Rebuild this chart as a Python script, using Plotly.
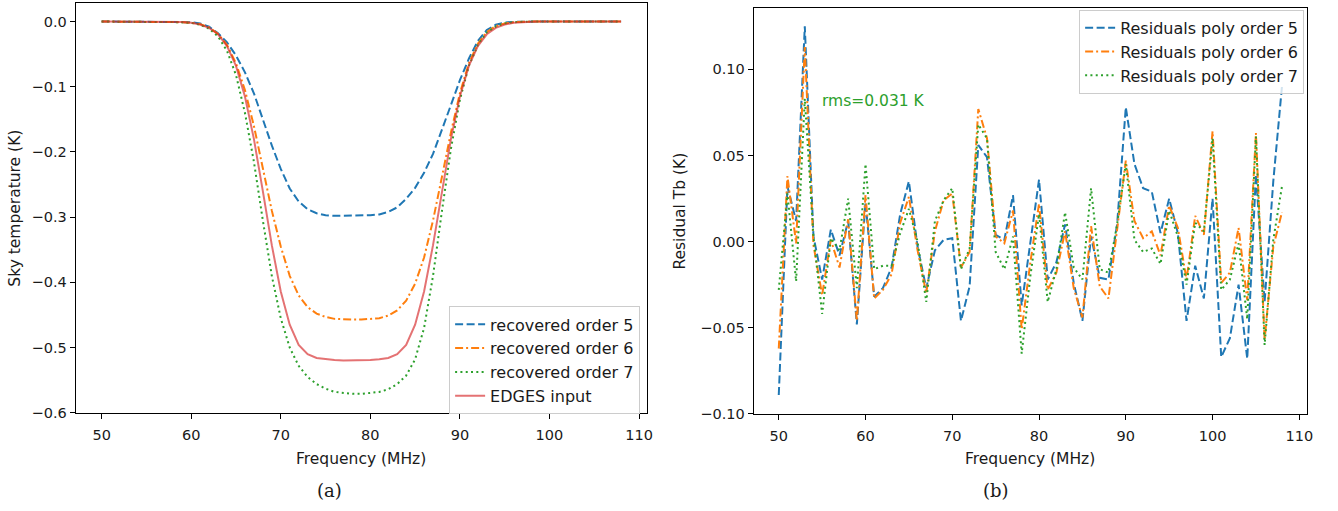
import plotly.graph_objects as go

# ---------------- data ----------------
freq = list(range(50, 109))

# panel (a): sky temperature (K)
recovered_order5 = [
    0, 0, 0, 0, 0, 0, 0, 0, 0,
    -0.0005, -0.001, -0.003, -0.008, -0.018, -0.032, -0.052, -0.078, -0.110, -0.150,
    -0.190, -0.226, -0.256, -0.276, -0.288, -0.294, -0.297, -0.298, -0.298, -0.298,
    -0.298, -0.297, -0.296, -0.292, -0.285, -0.272, -0.255, -0.232, -0.203, -0.167,
    -0.128, -0.090, -0.057, -0.030, -0.013, -0.005, -0.0015, -0.0005, 0,
    0, 0, 0, 0, 0, 0, 0, 0, 0, 0, 0,
]
recovered_order6 = [
    0, 0, 0, 0, 0, 0, 0, 0, 0,
    -0.001, -0.002, -0.004, -0.009, -0.019, -0.036, -0.064, -0.105, -0.160, -0.225,
    -0.290, -0.345, -0.390, -0.420, -0.438, -0.448, -0.453, -0.456, -0.457, -0.457,
    -0.457, -0.456, -0.455, -0.451, -0.443, -0.428, -0.402, -0.362, -0.305, -0.238,
    -0.170, -0.110, -0.064, -0.034, -0.016, -0.007, -0.003, -0.001, 0,
    0, 0, 0, 0, 0, 0, 0, 0, 0, 0, 0,
]
recovered_order7 = [
    0, 0, 0, 0, 0, 0, 0, 0, 0,
    -0.001, -0.002, -0.005, -0.011, -0.023, -0.045, -0.082, -0.140, -0.215, -0.305,
    -0.390, -0.455, -0.500, -0.528, -0.545, -0.556, -0.563, -0.568, -0.570, -0.571,
    -0.571, -0.570, -0.568, -0.564, -0.556, -0.543, -0.518, -0.470, -0.390, -0.290,
    -0.195, -0.120, -0.068, -0.036, -0.017, -0.008, -0.003, -0.001, 0,
    0, 0, 0, 0, 0, 0, 0, 0, 0, 0, 0,
]
edges_input = [
    0, 0, 0, 0, 0, 0, 0, 0,
    -0.0003, -0.0008, -0.002, -0.0045, -0.0097, -0.0196, -0.0376, -0.068, -0.115, -0.180,
    -0.260, -0.343, -0.414, -0.465, -0.496, -0.510, -0.516, -0.518, -0.519, -0.520,
    -0.520, -0.520, -0.519, -0.518, -0.516, -0.510, -0.496, -0.465, -0.414, -0.343,
    -0.260, -0.180, -0.115, -0.068, -0.0376, -0.0196, -0.0097, -0.0045, -0.002, -0.0008,
    -0.0003, 0, 0, 0, 0, 0, 0, 0, 0, 0, 0,
]

# panel (b): residuals (K)
resid_order5 = [
    -0.089, 0.032, 0.012, 0.125, 0.003, -0.022, 0.007, -0.008, 0.012, -0.048,
    0.023, -0.032, -0.027, -0.015, 0.016, 0.035, -0.003, -0.027, -0.005, 0.001,
    0.002, -0.046, -0.026, 0.056, 0.049, 0.004, 0.001, 0.027, -0.037, 0.000,
    0.036, -0.022, -0.012, 0.010, -0.024, -0.046, 0.003, -0.021, -0.022, 0.010,
    0.078, 0.045, 0.031, 0.029, 0.005, 0.025, 0.005, -0.046, -0.014, -0.033,
    0.025, -0.067, -0.056, -0.025, -0.068, 0.039, -0.035, 0.035, 0.090,
]
resid_order6 = [
    -0.062, 0.038, -0.001, 0.113, -0.002, -0.031, 0.001, -0.015, 0.013, -0.046,
    0.027, -0.033, -0.028, -0.019, 0.011, 0.026, -0.005, -0.030, 0.006, 0.024,
    0.028, -0.015, -0.006, 0.077, 0.060, 0.003, -0.001, 0.018, -0.051, -0.012,
    0.022, -0.028, -0.018, 0.006, -0.027, -0.044, 0.009, -0.026, -0.033, 0.006,
    0.047, 0.012, 0.002, 0.006, -0.008, 0.021, 0.008, -0.022, 0.015, 0.004,
    0.064, -0.024, -0.018, 0.008, -0.034, 0.063, -0.057, -0.003, 0.017,
]
resid_order7 = [
    -0.028, 0.028, -0.023, 0.083, 0.003, -0.042, 0.002, -0.005, 0.025, -0.027,
    0.045, -0.016, -0.014, -0.014, 0.005, 0.019, 0.000, -0.035, 0.012, 0.024,
    0.031, -0.016, -0.004, 0.068, 0.060, -0.006, -0.016, 0.003, -0.065, -0.020,
    0.016, -0.035, -0.016, 0.017, -0.015, -0.022, 0.031, -0.016, -0.018, 0.010,
    0.045, 0.001, -0.006, -0.004, -0.013, 0.018, 0.003, -0.025, 0.011, 0.006,
    0.060, -0.028, -0.022, -0.001, -0.045, 0.061, -0.060, 0.001, 0.032,
]

left_names = ["recovered order 5", "recovered order 6", "recovered order 7", "EDGES input"]
right_names = ["Residuals poly order 5", "Residuals poly order 6", "Residuals poly order 7"]
rms_label = "rms=0.031 K"

# ---------------- styling ----------------
W, H = 1338, 511
BLUE, ORANGE, GREEN = "#1f77b4", "#ff7f0e", "#2ca02c"
RED = "rgba(214,39,40,0.65)"
DASH = "8px,3.5px"
DASHDOT = "8px,3px,2px,3px"
DOT = "2px,3.3px"
FONT = "DejaVu Sans"
TXT = "#1a1a1a"
TICK_SIZE = 14.5
LABEL_SIZE = 15.5
LEGEND_SIZE = 16

def px(x):
    return x / W

def py(y):
    return 1 - y / H

fig = go.Figure()

left_series = [
    (recovered_order5, left_names[0], BLUE, DASH),
    (recovered_order6, left_names[1], ORANGE, DASHDOT),
    (recovered_order7, left_names[2], GREEN, DOT),
    (edges_input, left_names[3], RED, "solid"),
]
for ys, name, col, dash in left_series:
    fig.add_trace(go.Scatter(x=freq, y=ys, mode="lines", name=name,
                             line=dict(color=col, width=2, dash=dash),
                             xaxis="x", yaxis="y", legend="legend"))

right_series = [
    (resid_order5, right_names[0], BLUE, DASH),
    (resid_order6, right_names[1], ORANGE, DASHDOT),
    (resid_order7, right_names[2], GREEN, DOT),
]
for ys, name, col, dash in right_series:
    fig.add_trace(go.Scatter(x=freq, y=ys, mode="lines", name=name,
                             line=dict(color=col, width=2, dash=dash),
                             xaxis="x2", yaxis="y2", legend="legend2"))

axis_common = dict(showline=True, mirror=True, linecolor="black", linewidth=1,
                   ticks="outside", ticklen=5, tickwidth=1, tickcolor="black",
                   showgrid=False, zeroline=False,
                   tickfont=dict(family=FONT, size=TICK_SIZE, color=TXT))

legend_common = dict(bgcolor="rgba(255,255,255,0.8)", bordercolor="#cccccc", borderwidth=1,
                     font=dict(family=FONT, size=LEGEND_SIZE, color=TXT),
                     tracegroupgap=0, itemwidth=30)

fig.update_layout(
    width=W, height=H,
    margin=dict(l=0, r=0, t=0, b=0),
    paper_bgcolor="white", plot_bgcolor="white",
    font=dict(family=FONT, size=14, color=TXT),
    xaxis=dict(domain=[px(76), px(650)], range=[47.1, 110.9], anchor="y",
               tickvals=[50, 60, 70, 80, 90, 100, 110], ticklabelstandoff=3,
               **axis_common),
    yaxis=dict(domain=[py(420), py(3)], range=[-0.601, 0.0285], anchor="x",
               tickvals=[0, -0.1, -0.2, -0.3, -0.4, -0.5, -0.6], tickformat=".1f",
               **axis_common),
    xaxis2=dict(domain=[px(757), px(1313)], range=[47.1, 110.9], anchor="y2",
                tickvals=[50, 60, 70, 80, 90, 100, 110], ticklabelstandoff=3,
                **axis_common),
    yaxis2=dict(domain=[py(421), py(8)], range=[-0.1003, 0.1357], anchor="x2",
                tickvals=[-0.10, -0.05, 0.0, 0.05, 0.10], tickformat=".2f",
                **axis_common),
    legend=dict(x=px(643), y=py(421), xanchor="right", yanchor="bottom", **legend_common),
    legend2=dict(x=px(1310), y=py(10), xanchor="right", yanchor="top", **legend_common),
    showlegend=True,
)

def label(text, x, y, size, angle=0, family=FONT):
    return dict(text=text, x=px(x), y=py(y), xref="paper", yref="paper",
                xanchor="center", yanchor="middle", showarrow=False, textangle=angle,
                font=dict(family=family, size=size, color=TXT))

annotations = [
    label("Frequency (MHz)", 363, 466, LABEL_SIZE),
    label("Frequency (MHz)", 1035, 466, LABEL_SIZE),
    label("Sky temperature (K)", 15, 211, LABEL_SIZE, -90),
    label("Residual Tb (K)", 683, 214, LABEL_SIZE, -90),
    label("(a)", 331, 498, 18, 0, "DejaVu Serif"),
    label("(b)", 1000, 498, 18, 0, "DejaVu Serif"),
    dict(text=rms_label, x=54.8, y=0.0815, xref="x2", yref="y2", xanchor="left",
         yanchor="middle", showarrow=False,
         font=dict(family=FONT, size=LABEL_SIZE, color=GREEN)),
]
fig.update_layout(annotations=annotations)

fig.write_html("out.html", config={"displayModeBar": False},
               post_script="document.body.style.margin='0px';")
